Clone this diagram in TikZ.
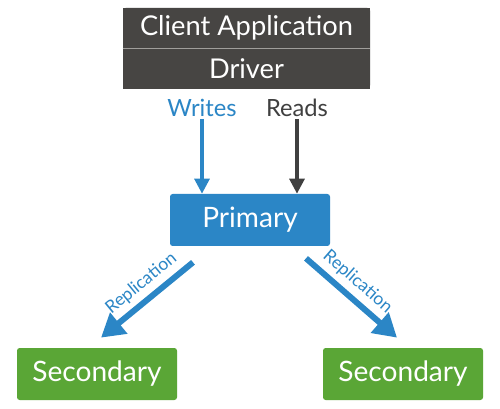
\documentclass[tikz,border=0pt]{standalone}
\usepackage{fontspec}
\setmainfont{Lato}
\usetikzlibrary{arrows.meta,positioning,calc}
\definecolor{AppGray}{HTML}{474543}
\definecolor{Divider}{HTML}{A09E9B}
\definecolor{PrimBlue}{HTML}{2B86C6}
\definecolor{SecGreen}{HTML}{5AA636}
\definecolor{ReadInk}{HTML}{404040}
\begin{document}
\begin{tikzpicture}[every node/.style={font=\fontsize{15.5}{18}\selectfont},appbox/.style={fill=AppGray,text=white,minimum width=4.94cm,minimum height=0.8cm,inner sep=0pt},rolebox/.style={text=white,font=\fontsize{16}{18}\selectfont,minimum width=3.2cm,minimum height=1.04cm,inner sep=0pt,rounded corners=1.5pt},oplabel/.style={font=\fontsize{13.5}{15}\selectfont,inner sep=1pt},writearrow/.style={-{Triangle[length=0.3cm,width=0.3cm]},line width=1.8pt,draw=PrimBlue},readarrow/.style={-{Triangle[length=0.3cm,width=0.3cm]},line width=1.8pt,draw=ReadInk},replarrow/.style={-{Triangle[length=0.46cm,width=0.52cm]},line width=3.4pt,draw=PrimBlue}]
\useasboundingbox[fill=white] (0,0) rectangle (10,-8.18);
\fill[AppGray,rounded corners=1.5pt] (2.46,-0.16) rectangle (7.40,-1.76);
\node[appbox](client) at (4.93,-0.56){Client Application};
\node[appbox,below=0pt of client](driver){Driver};
\draw[Divider,line width=0.6pt](client.south west)--(client.south east);
\node[oplabel,text=PrimBlue](writes) at (4.04,-2.16){Writes};
\node[oplabel,text=ReadInk](reads) at (5.94,-2.16){Reads};
\node[rolebox,fill=PrimBlue](primary) at (5,-4.4){Primary};
\node[rolebox,fill=SecGreen](secleft) at (1.94,-7.48){Secondary};
\node[rolebox,fill=SecGreen](secright) at (8.06,-7.48){Secondary};
\draw[writearrow](writes.south)--(writes.south|-primary.north);
\draw[readarrow](reads.south)--(reads.south|-primary.north);
\draw[replarrow]([shift={(-1.14,-0.32)}]primary.south)--node[pos=0.45,sloped,above=2pt,inner sep=1pt,text=PrimBlue,font=\fontsize{10}{12}\selectfont]{Replication}([shift={(0.08,0.2)}]secleft.north);
\draw[replarrow]([shift={(1.12,-0.24)}]primary.south)--node[pos=0.45,sloped,above=2pt,inner sep=1pt,text=PrimBlue,font=\fontsize{10}{12}\selectfont]{Replication}([shift={(-0.12,0.2)}]secright.north);
\end{tikzpicture}
\end{document}
